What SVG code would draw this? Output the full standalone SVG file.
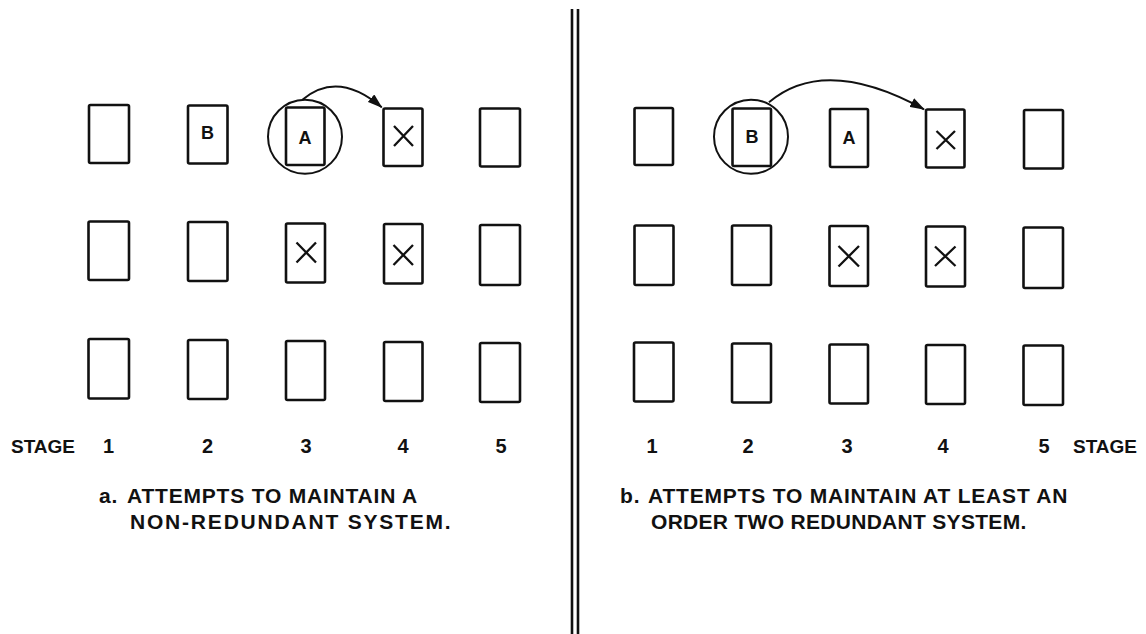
<svg xmlns="http://www.w3.org/2000/svg" width="1146" height="634" viewBox="0 0 1146 634">
<style>
.box{fill:none;stroke:#111;stroke-width:2.6}
.x{stroke:#111;stroke-width:2.3;fill:none}
.circ{fill:none;stroke:#111;stroke-width:2}
.conn{fill:none;stroke:#111;stroke-width:2}
.sep{stroke:#111;stroke-width:2.6}
.lbl{font-family:"Liberation Sans",Arial,sans-serif;font-size:18px;font-weight:bold;fill:#111;text-anchor:middle}
.num{font-family:"Liberation Sans",Arial,sans-serif;font-size:20px;font-weight:bold;fill:#111;text-anchor:middle}
.stage{font-family:"Liberation Sans",Arial,sans-serif;font-size:19px;font-weight:bold;fill:#111}
.cap{font-family:"Liberation Sans",Arial,sans-serif;font-size:21px;font-weight:bold;fill:#111;letter-spacing:0.8px}
</style>
<defs>
<marker id="ah" markerWidth="15" markerHeight="10" refX="14" refY="5" orient="auto" markerUnits="userSpaceOnUse">
<path d="M0,0 L15,5 L0,10 Z" fill="#111"/>
</marker>
</defs>
<rect width="1146" height="634" fill="#fff"/>
<g id="separator">
<line class="sep" x1="572" y1="9" x2="572" y2="634"/>
<line class="sep" x1="578" y1="9" x2="578" y2="634"/>
</g>
<!-- Left panel -->
<g id="a-r1-s1"><rect class="box" x="89" y="105" width="40" height="58" rx="1.5"/></g>
<g id="a-r1-s2"><rect class="box" x="188" y="105.5" width="39.5" height="58" rx="1.5"/><text class="lbl" x="207.5" y="139">B</text></g>
<g id="a-r1-s3"><rect class="box" x="286" y="107.5" width="38.5" height="57.5" rx="1.5"/><text class="lbl" x="305" y="143.5">A</text><circle class="circ" cx="305" cy="136.7" r="37"/></g>
<g id="a-r1-s4"><rect class="box" x="383.5" y="108.5" width="39" height="57.5" rx="1.5"/><path class="x" d="M394,126 L413,146 M413,126 L394,146"/></g>
<g id="a-r1-s5"><rect class="box" x="480" y="108.5" width="40" height="58" rx="1.5"/></g>
<g id="a-r2-s1"><rect class="box" x="88.5" y="221.5" width="40.5" height="58.5" rx="1.5"/></g>
<g id="a-r2-s2"><rect class="box" x="188" y="222" width="39.5" height="59" rx="1.5"/></g>
<g id="a-r2-s3"><rect class="box" x="286" y="223.5" width="39" height="59" rx="1.5"/><path class="x" d="M296.5,242.5 L316,262.5 M316,242.5 L296.5,262.5"/></g>
<g id="a-r2-s4"><rect class="box" x="384" y="224" width="38.5" height="59.5" rx="1.5"/><path class="x" d="M393.5,245 L413,265 M413,245 L393.5,265"/></g>
<g id="a-r2-s5"><rect class="box" x="480" y="225" width="40" height="60" rx="1.5"/></g>
<g id="a-r3-s1"><rect class="box" x="88.5" y="339" width="40.5" height="59.5" rx="1.5"/></g>
<g id="a-r3-s2"><rect class="box" x="188" y="340" width="39.5" height="59" rx="1.5"/></g>
<g id="a-r3-s3"><rect class="box" x="286" y="341" width="39" height="59" rx="1.5"/></g>
<g id="a-r3-s4"><rect class="box" x="384" y="342" width="38.5" height="59" rx="1.5"/></g>
<g id="a-r3-s5"><rect class="box" x="480" y="343" width="40" height="59" rx="1.5"/></g>
<!-- Right panel -->
<g id="b-r1-s1"><rect class="box" x="634.5" y="108" width="38.5" height="57" rx="1.5"/></g>
<g id="b-r1-s2"><rect class="box" x="732.5" y="108.5" width="38.5" height="57.5" rx="1.5"/><text class="lbl" x="752" y="142.5">B</text><circle class="circ" cx="751" cy="136.7" r="37"/></g>
<g id="b-r1-s3"><rect class="box" x="830" y="109" width="38" height="58" rx="1.5"/><text class="lbl" x="849" y="143.5">A</text></g>
<g id="b-r1-s4"><rect class="box" x="926" y="109.5" width="38.5" height="58" rx="1.5"/><path class="x" d="M936.5,131 L955,149 M955,131 L936.5,149"/></g>
<g id="b-r1-s5"><rect class="box" x="1024" y="110" width="39" height="58.5" rx="1.5"/></g>
<g id="b-r2-s1"><rect class="box" x="634.5" y="225.5" width="39" height="59.5" rx="1.5"/></g>
<g id="b-r2-s2"><rect class="box" x="732" y="225.5" width="39" height="59.5" rx="1.5"/></g>
<g id="b-r2-s3"><rect class="box" x="829.5" y="226" width="38.5" height="60" rx="1.5"/><path class="x" d="M838.5,246 L859,266.5 M859,246 L838.5,266.5"/></g>
<g id="b-r2-s4"><rect class="box" x="926" y="226.5" width="39" height="60" rx="1.5"/><path class="x" d="M935,246.5 L955.5,266 M955.5,246.5 L935,266"/></g>
<g id="b-r2-s5"><rect class="box" x="1023.5" y="227.5" width="39.5" height="60.5" rx="1.5"/></g>
<g id="b-r3-s1"><rect class="box" x="634" y="342.5" width="39.5" height="59" rx="1.5"/></g>
<g id="b-r3-s2"><rect class="box" x="732" y="343.5" width="39" height="59" rx="1.5"/></g>
<g id="b-r3-s3"><rect class="box" x="829.5" y="344.5" width="38.5" height="59" rx="1.5"/></g>
<g id="b-r3-s4"><rect class="box" x="926" y="345" width="39" height="59" rx="1.5"/></g>
<g id="b-r3-s5"><rect class="box" x="1023.5" y="345.5" width="39.5" height="59.5" rx="1.5"/></g>
<g id="connectors">
<path class="conn" d="M302.7,99.5 Q338,70 381.7,107.3" marker-end="url(#ah)"/>
<path class="conn" d="M769,102.3 Q825,55 924,109.3" marker-end="url(#ah)"/>
</g>
<g id="labels">
<text class="stage" x="11" y="453">STAGE</text>
<text class="num" x="108.5" y="453">1</text>
<text class="num" x="207.5" y="453">2</text>
<text class="num" x="306" y="453">3</text>
<text class="num" x="403" y="453">4</text>
<text class="num" x="501" y="453">5</text>
<text class="num" x="652" y="453">1</text>
<text class="num" x="748" y="453">2</text>
<text class="num" x="847" y="453">3</text>
<text class="num" x="943" y="453">4</text>
<text class="num" x="1044" y="453">5</text>
<text class="stage" x="1073" y="453">STAGE</text>
<text class="cap" x="99" y="503">a.</text>
<text class="cap" x="127" y="503">ATTEMPTS TO MAINTAIN A</text>
<text class="cap" x="130" y="529" style="letter-spacing:1.8px">NON-REDUNDANT SYSTEM.</text>
<text class="cap" x="620" y="503">b.</text>
<text class="cap" x="648" y="503">ATTEMPTS TO MAINTAIN AT LEAST AN</text>
<text class="cap" x="651" y="529" style="letter-spacing:0.3px">ORDER TWO REDUNDANT SYSTEM.</text>
</g>
</svg>
